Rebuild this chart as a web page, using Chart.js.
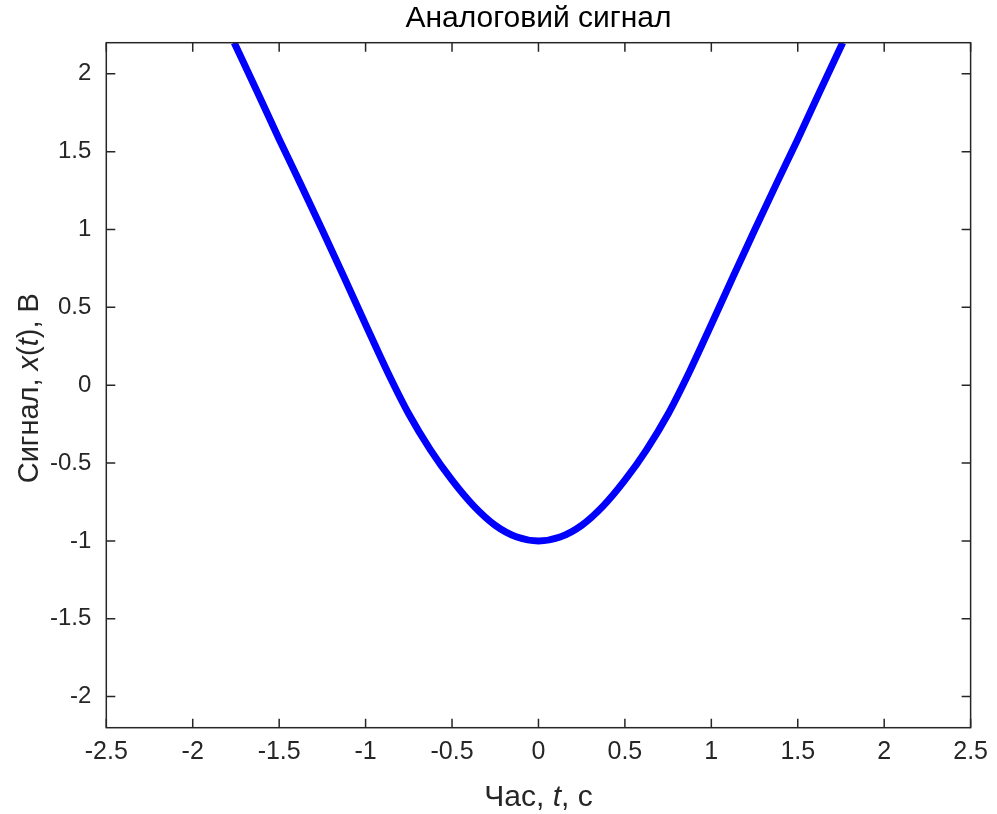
<!DOCTYPE html>
<html>
<head>
<meta charset="utf-8">
<title>Аналоговий сигнал</title>
<script src="https://cdn.jsdelivr.net/npm/chart.js@4/dist/chart.umd.min.js"></script>
<style>
  html, body { margin: 0; padding: 0; background: #fff; }
  #wrap { width: 997px; height: 814px; }
</style>
</head>
<body>
<div id="wrap"><canvas id="signalChart"></canvas></div>
<script>
// values
const timeValues = [-1.76, -1.625, -1.5, -1.375, -1.25, -1.125, -1, -0.875, -0.75, -0.625, -0.5, -0.375, -0.25, -0.125,
    0, 0.125, 0.25, 0.375, 0.5, 0.625, 0.75, 0.875, 1, 1.125, 1.25, 1.375, 1.5, 1.625, 1.76];
const signalValues = [2.2, 1.88, 1.58, 1.29, 0.995, 0.695, 0.39, 0.09, -0.185, -0.415, -0.61, -0.775, -0.90, -0.975,
    -1.0, -0.975, -0.90, -0.775, -0.61, -0.415, -0.185, 0.09, 0.39, 0.695, 0.995, 1.29, 1.58, 1.88, 2.2];

const xTicks = [-2.5, -2, -1.5, -1, -0.5, 0, 0.5, 1, 1.5, 2, 2.5];
const yTicks = [-2, -1.5, -1, -0.5, 0, 0.5, 1, 1.5, 2];

const chartTitle = 'Аналоговий сигнал';
// [text, italic]
const xLabelParts = [['Час, ', false], ['t', true], [', с', false]];
const yLabelParts = [['Сигнал, ', false], ['x', true], ['(', false], ['t', true], [')', false], [', В', false]];

const fontFamily = "'Liberation Sans', Arial, Helvetica, sans-serif";
const axisColor = '#262626';
const tickLen = 9;

function drawParts(ctx, parts, size) {
    let total = 0;
    parts.forEach(p => {
        ctx.font = (p[1] ? 'italic ' : '') + size + 'px ' + fontFamily;
        total += ctx.measureText(p[0]).width;
    });
    let cx = -total / 2;
    parts.forEach(p => {
        ctx.font = (p[1] ? 'italic ' : '') + size + 'px ' + fontFamily;
        ctx.fillText(p[0], cx, 0);
        cx += ctx.measureText(p[0]).width;
    });
}

const frameTicks = {
    id: 'frameTicks',
    afterDatasetsDraw(chart) {
        const { ctx, chartArea: a, scales: { x, y } } = chart;
        const midX = (a.left + a.right) / 2;
        ctx.save();
        ctx.strokeStyle = axisColor;
        ctx.lineWidth = 1.5;
        ctx.beginPath();
        xTicks.forEach(v => {
            const px = x.getPixelForValue(v);
            ctx.moveTo(px, a.bottom);
            ctx.lineTo(px, a.bottom - tickLen);
            ctx.moveTo(px, a.top);
            ctx.lineTo(px, a.top + tickLen);
        });
        yTicks.forEach(v => {
            const py = y.getPixelForValue(v);
            ctx.moveTo(a.left, py);
            ctx.lineTo(a.left + tickLen, py);
            ctx.moveTo(a.right, py);
            ctx.lineTo(a.right - tickLen, py);
        });
        ctx.stroke();
        ctx.strokeRect(a.left, a.top, a.right - a.left, a.bottom - a.top);

        ctx.textBaseline = 'middle';
        ctx.textAlign = 'left';

        // title, centred over the axes box
        ctx.fillStyle = '#000';
        ctx.save();
        ctx.translate(midX, 19);
        drawParts(ctx, [[chartTitle, false]], 30);
        ctx.restore();

        ctx.fillStyle = axisColor;
        ctx.save();
        ctx.translate(midX, 798);
        drawParts(ctx, xLabelParts, 30);
        ctx.restore();
        ctx.save();
        ctx.translate(30, (a.top + a.bottom) / 2 + 3);
        ctx.rotate(-Math.PI / 2);
        drawParts(ctx, yLabelParts, 29);
        ctx.restore();
        ctx.restore();
    }
};

const ctx = document.getElementById('signalChart').getContext('2d');
new Chart(ctx, {
    type: 'line',
    data: {
        datasets: [{
            data: timeValues.map((t, i) => ({ x: t, y: signalValues[i] })),
            borderColor: '#0000ff',
            borderWidth: 7,
            pointRadius: 0,
            fill: false,
            cubicInterpolationMode: 'monotone',
            clip: 0
        }]
    },
    options: {
        responsive: true,
        maintainAspectRatio: false,
        animation: false,
        layout: { padding: { left: 0, right: 24.3, top: 42.7, bottom: 0 } },
        plugins: {
            legend: { display: false },
            tooltip: { enabled: false },
            title: { display: false }
        },
        scales: {
            x: {
                type: 'linear',
                min: -2.5,
                max: 2.5,
                grid: { display: false, drawTicks: false },
                border: { display: false },
                afterBuildTicks: s => { s.ticks = xTicks.map(v => ({ value: v })); },
                afterFit: s => { s.height = 86.3; },
                ticks: {
                    autoSkip: false,
                    maxRotation: 0,
                    padding: 9,
                    color: axisColor,
                    font: { family: fontFamily, size: 25 },
                    callback: v => String(v)
                }
            },
            y: {
                type: 'linear',
                min: -2.2,
                max: 2.2,
                grid: { display: false, drawTicks: false },
                border: { display: false },
                afterBuildTicks: s => { s.ticks = yTicks.map(v => ({ value: v })); },
                afterFit: s => { s.width = 106.3; },
                ticks: {
                    autoSkip: false,
                    padding: 15,
                    color: axisColor,
                    font: { family: fontFamily, size: 24 },
                    callback: v => String(v)
                }
            }
        }
    },
    plugins: [frameTicks]
});
</script>
</body>
</html>
